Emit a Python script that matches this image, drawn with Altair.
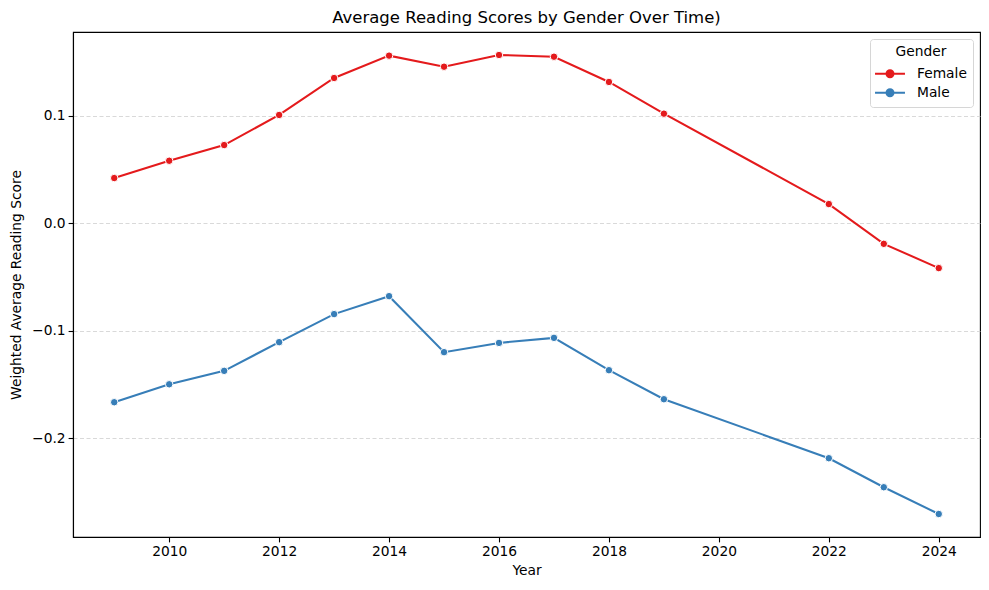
import altair as alt
import pandas as pd

years = [2009, 2010, 2011, 2012, 2013, 2014, 2015, 2016, 2017, 2018, 2019, 2022, 2023, 2024]
female = [0.0419, 0.058, 0.0726, 0.1006, 0.135, 0.1558, 0.1455, 0.1564, 0.1548, 0.1313, 0.1018, 0.0177, -0.0193, -0.0419]
male = [-0.1667, -0.150, -0.1375, -0.1108, -0.0847, -0.068, -0.1201, -0.1115, -0.1068, -0.1369, -0.1639, -0.2188, -0.2458, -0.2707]
genders = ["Female", "Male"]
colors = ["#e41a1c", "#377eb8"]
x_ticks = [2010, 2012, 2014, 2016, 2018, 2020, 2022, 2024]
y_ticks = [-0.2, -0.1, 0.0, 0.1]

rows = []
for g, vals in zip(genders, [female, male]):
    for yr, v in zip(years, vals):
        rows.append({"Year": yr, "Score": v, "Gender": g})
df = pd.DataFrame(rows)

FONT = "DejaVu Sans"

# legend glyph: a line with a dot (dot drawn as concentric stroked rings)
rings = "".join(
    f"M{r},0A{r},{r},0,1,1,-{r},0A{r},{r},0,1,1,{r},0"
    for r in ["0.1", "0.25", "0.4", "0.5"]
)
legend_path = "M-2.14,0L2.14,0" + rings

x_enc = alt.X("Year:Q", title="Year",
              scale=alt.Scale(domain=[2008.25, 2024.75], nice=False, zero=False),
              axis=alt.Axis(values=x_ticks, format="d", grid=False))
y_enc = alt.Y("Score:Q", title="Weighted Average Reading Score",
              scale=alt.Scale(domain=[-0.2921, 0.1778], nice=False, zero=False),
              axis=alt.Axis(values=y_ticks, format=".1f", grid=True,
                            gridDash=[4, 2.5], gridColor="#cfcfcf", gridWidth=0.8))
color_scale = alt.Scale(domain=genders, range=colors)

lines = alt.Chart(df).mark_line(strokeWidth=2.05).encode(
    x=x_enc, y=y_enc,
    color=alt.Color("Gender:N", scale=color_scale,
                    legend=alt.Legend(
                        title="Gender", orient="top-right", offset=7,
                        symbolType=legend_path, symbolSize=196, symbolStrokeWidth=2,
                        symbolFillColor="transparent", symbolOffset=6,
                        labelOffset=19,
                    )),
)

points = alt.Chart(df).mark_circle(size=56, opacity=1, stroke="white", strokeWidth=1).encode(
    x=x_enc, y=y_enc,
    color=alt.Color("Gender:N", scale=color_scale, legend=None),
)

chart = alt.layer(lines, points).properties(
    width=907, height=505,
    autosize=alt.AutoSizeParams(type="none"),
    padding={"left": 65, "top": 24, "right": 1, "bottom": 45},
    title=alt.TitleParams("Average Reading Scores by Gender Over Time)",
                          anchor="middle", fontSize=16.5, fontWeight="normal",
                          font=FONT, color="black", offset=6),
).configure_view(
    stroke="black", strokeWidth=1.1
).configure_axis(
    labelFont=FONT, titleFont=FONT, labelFontSize=13.8, titleFontSize=13.8,
    labelColor="black", titleColor="black", titleFontWeight="normal",
    domain=True, domainColor="black", domainWidth=1.1,
    tickColor="black", tickSize=4.9, tickWidth=1.1, labelPadding=3,
).configure_axisX(
    titlePadding=5,
).configure_axisY(
    titlePadding=8,
).configure_legend(
    titleFont=FONT, labelFont=FONT, titleFontSize=13.8, labelFontSize=13.8,
    titleFontWeight="normal", titleColor="black", labelColor="black",
    titleAnchor="middle", padding=6, strokeColor="#d6d6d6", fillColor="white",
    cornerRadius=3, rowPadding=3, titlePadding=7,
)

chart.save("out.html", embed_options={"renderer": "svg", "actions": False})
